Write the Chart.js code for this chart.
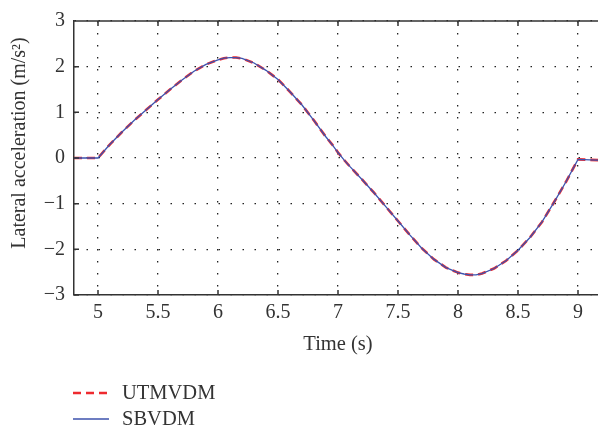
<!DOCTYPE html>
<html>
<head>
<meta charset="utf-8">
<script src="https://cdn.jsdelivr.net/npm/chart.js@4/dist/chart.umd.min.js"></script>
<style>
  html, body { margin: 0; padding: 0; background: #fff; overflow: hidden; }
  #wrap { width: 598px; height: 432px; overflow: hidden; }
</style>
</head>
<body>
<div id="wrap"><canvas id="accChart" width="610" height="432"></canvas></div>
<script>
// time (s)
const timeS = [4.8, 4.9, 5.0, 5.1, 5.2, 5.3, 5.4, 5.5, 5.6, 5.7, 5.8, 5.9, 6.0, 6.05, 6.1, 6.15, 6.2, 6.3, 6.4, 6.5, 6.6, 6.7, 6.8, 6.9, 6.95, 7.0, 7.05, 7.1, 7.2, 7.3, 7.4, 7.5, 7.6, 7.7, 7.8, 7.9, 8.0, 8.05, 8.1, 8.15, 8.2, 8.3, 8.4, 8.5, 8.6, 8.7, 8.8, 8.9, 9.0, 9.1, 9.2];
// lateral acceleration (m/s^2)
const utmvdm = [0, 0, 0, 0.3, 0.57, 0.82, 1.05, 1.28, 1.5, 1.71, 1.9, 2.05, 2.15, 2.185, 2.2, 2.2, 2.18, 2.08, 1.92, 1.72, 1.45, 1.16, 0.82, 0.46, 0.3, 0.12, -0.04, -0.19, -0.47, -0.76, -1.07, -1.38, -1.69, -1.98, -2.22, -2.4, -2.51, -2.54, -2.56, -2.56, -2.53, -2.42, -2.25, -2.02, -1.74, -1.4, -0.97, -0.52, -0.03, -0.04, -0.05];
const sbvdm = [0, 0, 0, 0.3, 0.57, 0.82, 1.05, 1.28, 1.5, 1.71, 1.9, 2.05, 2.15, 2.185, 2.2, 2.2, 2.18, 2.08, 1.92, 1.72, 1.45, 1.16, 0.82, 0.46, 0.3, 0.12, -0.04, -0.19, -0.47, -0.76, -1.07, -1.38, -1.69, -1.98, -2.22, -2.4, -2.51, -2.54, -2.56, -2.56, -2.53, -2.42, -2.25, -2.02, -1.74, -1.4, -0.97, -0.52, -0.03, -0.04, -0.05];
const seriesNames = ['UTMVDM', 'SBVDM'];
const xTickValues = [5, 5.5, 6, 6.5, 7, 7.5, 8, 8.5, 9];
const yTickValues = [-3, -2, -1, 0, 1, 2, 3];

const serif = 'Liberation Serif, Times New Roman, serif';
const axisColor = '#333';

const toPoints = (xs, ys) => xs.map((x, i) => ({ x: x, y: ys[i] }));
const minusSign = v => String(v).replace('-', '\u2212');

// top border + inward tick marks
const frameTicks = {
  id: 'frameTicks',
  afterDraw(chart) {
    const { ctx, chartArea: a, scales } = chart;
    ctx.save();
    ctx.strokeStyle = axisColor;
    ctx.lineWidth = 1.5;
    ctx.beginPath();
    ctx.moveTo(a.left, a.top);
    ctx.lineTo(a.right, a.top);
    xTickValues.forEach(v => {
      const px = scales.x.getPixelForValue(v);
      ctx.moveTo(px, a.top);
      ctx.lineTo(px, a.top + 5);
      ctx.moveTo(px, a.bottom);
      ctx.lineTo(px, a.bottom - 5);
    });
    yTickValues.forEach(v => {
      const py = scales.y.getPixelForValue(v);
      ctx.moveTo(a.left, py);
      ctx.lineTo(a.left + 5, py);
    });
    ctx.stroke();
    ctx.restore();
  }
};

// stacked legend under the axis
const stackedLegend = {
  id: 'stackedLegend',
  afterDraw(chart) {
    const { ctx } = chart;
    ctx.save();
    ctx.font = '20.5px ' + serif;
    ctx.textBaseline = 'middle';
    chart.data.datasets.forEach((ds, i) => {
      const y = 393 + i * 26;
      ctx.strokeStyle = ds.borderColor;
      ctx.lineWidth = ds.borderWidth;
      ctx.setLineDash(ds.borderDash || []);
      ctx.beginPath();
      ctx.moveTo(73, y);
      ctx.lineTo(109, y);
      ctx.stroke();
      ctx.setLineDash([]);
      ctx.fillStyle = axisColor;
      ctx.fillText(ds.label, 122, y + 1);
    });
    ctx.restore();
  }
};

new Chart(document.getElementById('accChart').getContext('2d'), {
  type: 'line',
  data: {
    datasets: [
      {
        label: seriesNames[0],
        data: toPoints(timeS, utmvdm),
        borderColor: '#ee2a2f',
        borderWidth: 2.6,
        borderDash: [8, 5],
        pointRadius: 0,
        tension: 0,
        order: 1
      },
      {
        label: seriesNames[1],
        data: toPoints(timeS, sbvdm),
        borderColor: '#3c52ad',
        borderWidth: 1.3,
        pointRadius: 0,
        tension: 0,
        order: 0
      }
    ]
  },
  options: {
    responsive: false,
    animation: false,
    devicePixelRatio: 1,
    layout: { padding: { top: 14, right: 8, bottom: 67, left: 0 } },
    plugins: {
      legend: { display: false },
      tooltip: { enabled: false }
    },
    scales: {
      x: {
        type: 'linear',
        min: 4.8,
        max: 9.2,
        afterBuildTicks: s => { s.ticks = xTickValues.map(v => ({ value: v })); },
        afterFit: s => { s.height = 70; },
        ticks: {
          padding: 6,
          color: axisColor,
          font: { family: serif, size: 20 },
          callback: v => minusSign(v),
          maxRotation: 0
        },
        grid: { color: '#222', lineWidth: 1.3, drawTicks: false },
        border: { display: true, color: axisColor, width: 1.5, dash: [1.5, 10.5] },
        title: {
          display: true,
          text: 'Time (s)',
          color: axisColor,
          font: { family: serif, size: 20.5 },
          padding: { top: 0, bottom: 8 }
        }
      },
      y: {
        type: 'linear',
        min: -3,
        max: 3,
        afterBuildTicks: s => { s.ticks = yTickValues.map(v => ({ value: v })); },
        afterFit: s => { s.width = 74; },
        ticks: {
          padding: 9,
          color: axisColor,
          font: { family: serif, size: 20 },
          callback: v => minusSign(v)
        },
        grid: { color: '#222', lineWidth: 1.3, drawTicks: false },
        border: { display: true, color: axisColor, width: 1.5, dash: [1.5, 10.5] },
        title: {
          display: true,
          text: '\u2002\u2002\u2002Lateral acceleration (m/s\u00b2)',
          color: axisColor,
          font: { family: serif, size: 20 },
          padding: { top: 8, bottom: 0 }
        }
      }
    }
  },
  plugins: [frameTicks, stackedLegend]
});
</script>
</body>
</html>
